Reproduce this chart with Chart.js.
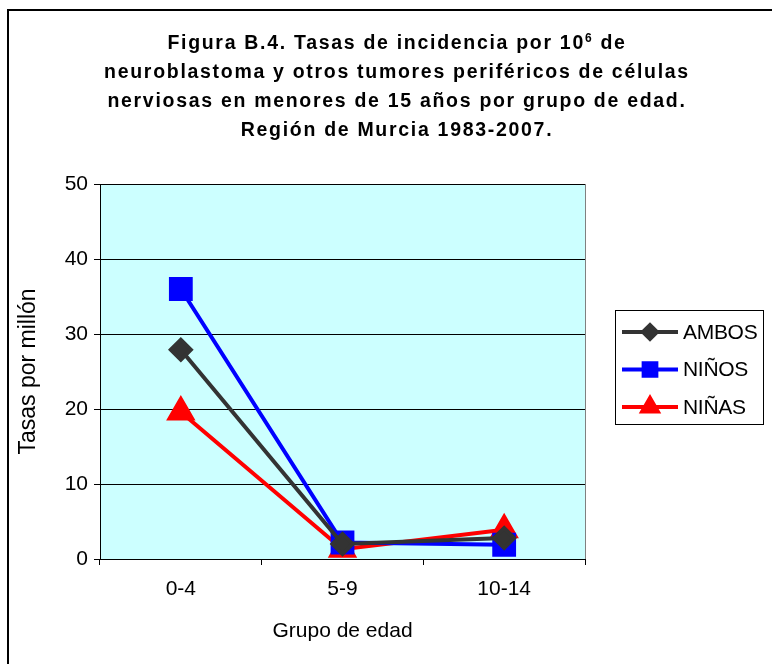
<!DOCTYPE html>
<html lang="es">
<head>
    <meta charset="UTF-8">
    <title>Figura B.4</title>
    <script src="https://cdn.jsdelivr.net/npm/chart.js"></script>
    <style>
        body {
            margin: 0;
            padding: 0;
            background: #ffffff;
            font-family: "Liberation Sans", Arial, sans-serif;
        }
        .wrap {
            position: relative;
            width: 772px;
            height: 664px;
            overflow: hidden;
        }
        .frame {
            position: absolute;
            left: 7px;
            top: 9px;
            width: 900px;
            height: 900px;
            border-left: 2px solid #000;
            border-top: 2px solid #000;
        }
        canvas {
            position: absolute;
            left: 0;
            top: 0;
        }
    </style>
</head>
<body>
<div class="wrap">
    <div class="frame"></div>
    <canvas id="chart" width="772" height="664"></canvas>
</div>

<script>
    // datos
    const grupos = ['0-4', '5-9', '10-14'];
    const ambos = [27.9, 2.0, 2.8];
    const ninos = [36.0, 2.2, 1.9];
    const ninas = [19.6, 1.3, 3.9];
    const yTicks = [0, 10, 20, 30, 40, 50];

    const tituloLineas = [
        [['Figura B.4. Tasas de incidencia por 10', false], ['6', true], [' de', false]],
        [['neuroblastoma y otros tumores periféricos de células', false]],
        [['nerviosas en menores de 15 años por grupo de edad.', false]],
        [['Región de Murcia 1983-2007.', false]]
    ];

    const FONT = '"Liberation Sans", Arial, sans-serif';

    // fondo celeste del área de trazado
    const plotBg = {
        id: 'plotBg',
        beforeDraw(chart) {
            const { ctx, chartArea: a } = chart;
            ctx.save();
            ctx.fillStyle = '#ccffff';
            ctx.fillRect(a.left, a.top, a.right - a.left, a.bottom - a.top);
            ctx.strokeStyle = '#808080';
            ctx.lineWidth = 1;
            ctx.beginPath();
            ctx.moveTo(a.right + 0.5, a.top);
            ctx.lineTo(a.right + 0.5, a.bottom);
            ctx.stroke();
            ctx.restore();
        }
    };

    // título con superíndice
    const tituloPlugin = {
        id: 'tituloPlugin',
        afterDraw(chart) {
            const ctx = chart.ctx;
            const cx = 397;
            const y0 = 44;
            const lh = 29;
            ctx.save();
            ctx.fillStyle = '#000';
            ctx.textBaseline = 'middle';
            ctx.textAlign = 'left';
            ctx.letterSpacing = '1.7px';
            tituloLineas.forEach((segs, i) => {
                let total = 0;
                segs.forEach(([t, sup]) => {
                    ctx.font = sup ? 'bold 12px ' + FONT : 'bold 19.5px ' + FONT;
                    total += ctx.measureText(t).width;
                });
                let x = cx - total / 2;
                const y = y0 + i * lh;
                segs.forEach(([t, sup]) => {
                    ctx.font = sup ? 'bold 12px ' + FONT : 'bold 19.5px ' + FONT;
                    ctx.fillText(t, x, sup ? y - 5 : y);
                    x += ctx.measureText(t).width;
                });
            });
            ctx.restore();
        }
    };

    // leyenda con recuadro, línea y marcador
    const leyenda = {
        id: 'leyenda',
        afterDraw(chart) {
            const ctx = chart.ctx;
            const box = { x: 615.5, y: 310.5, w: 148, h: 114 };
            ctx.save();
            ctx.fillStyle = '#fff';
            ctx.fillRect(box.x, box.y, box.w, box.h);
            ctx.strokeStyle = '#000';
            ctx.lineWidth = 1;
            ctx.strokeRect(box.x, box.y, box.w, box.h);
            chart.data.datasets.forEach((ds, i) => {
                const y = 332 + i * 37.5;
                ctx.strokeStyle = ds.borderColor;
                ctx.lineWidth = 4;
                ctx.beginPath();
                ctx.moveTo(622, y);
                ctx.lineTo(678, y);
                ctx.stroke();
                Chart.helpers.drawPoint(ctx, {
                    pointStyle: ds.pointStyle,
                    radius: ds.legendRadius,
                    borderWidth: 1,
                    rotation: 0
                }, 650, y);
                ctx.fillStyle = ds.pointBackgroundColor;
                ctx.strokeStyle = ds.pointBackgroundColor;
                ctx.fill();
                ctx.fillStyle = '#000';
                ctx.font = '21px ' + FONT;
                ctx.textBaseline = 'middle';
                ctx.letterSpacing = '-0.3px';
                ctx.fillText(ds.label, 683, y + 1);
            });
            ctx.restore();
        }
    };

    new Chart(document.getElementById('chart'), {
        type: 'line',
        data: {
            labels: grupos,
            datasets: [
                {
                    label: 'AMBOS',
                    data: ambos,
                    borderColor: '#333333',
                    pointBackgroundColor: '#333333',
                    pointBorderColor: '#333333',
                    pointStyle: 'rectRot',
                    pointRadius: 10,
                    legendRadius: 7,
                    borderWidth: 4
                },
                {
                    label: 'NIÑOS',
                    data: ninos,
                    borderColor: '#0000ff',
                    pointBackgroundColor: '#0000ff',
                    pointBorderColor: '#0000ff',
                    pointStyle: 'rect',
                    pointRadius: 14,
                    legendRadius: 9,
                    borderWidth: 4
                },
                {
                    label: 'NIÑAS',
                    data: ninas,
                    borderColor: '#ff0000',
                    pointBackgroundColor: '#ff0000',
                    pointBorderColor: '#ff0000',
                    pointStyle: 'triangle',
                    pointRadius: 13,
                    legendRadius: 9,
                    borderWidth: 4
                }
            ]
        },
        options: {
            responsive: false,
            animation: false,
            layout: {
                padding: { top: 184, right: 187, bottom: 0, left: 0 }
            },
            plugins: {
                legend: { display: false },
                title: { display: false },
                tooltip: { enabled: false }
            },
            elements: {
                line: { tension: 0 },
                point: { borderWidth: 1, hoverRadius: 14 }
            },
            scales: {
                x: {
                    offset: true,
                    grid: {
                        offset: true,
                        drawOnChartArea: false,
                        drawTicks: true,
                        tickLength: 6,
                        color: '#000'
                    },
                    border: { color: '#000', width: 1 },
                    ticks: {
                        color: '#000',
                        font: { family: FONT, size: 21 },
                        padding: 12
                    },
                    title: {
                        display: true,
                        text: 'Grupo de edad',
                        color: '#000',
                        font: { family: FONT, size: 21 },
                        padding: { top: 10, bottom: 20 }
                    },
                    afterFit(scale) { scale.height = 105; }
                },
                y: {
                    min: 0,
                    max: 50,
                    afterBuildTicks(scale) {
                        scale.ticks = yTicks.map(v => ({ value: v }));
                    },
                    grid: {
                        color: '#000',
                        lineWidth: 1,
                        drawTicks: true,
                        tickLength: 6
                    },
                    border: { color: '#000', width: 1 },
                    ticks: {
                        color: '#000',
                        font: { family: FONT, size: 21 },
                        padding: 6
                    },
                    title: {
                        display: true,
                        text: 'Tasas por millón',
                        color: '#000',
                        font: { family: FONT, size: 23 },
                        padding: { top: 15, bottom: 0 }
                    },
                    afterFit(scale) { scale.width = 100; }
                }
            }
        },
        plugins: [plotBg, tituloPlugin, leyenda]
    });
</script>
</body>
</html>
